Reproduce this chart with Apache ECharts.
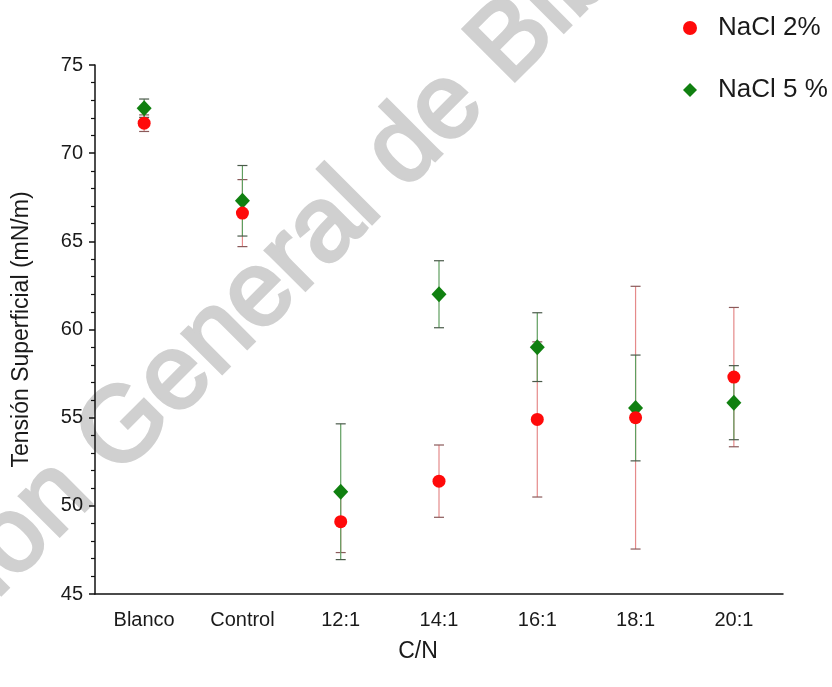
<!DOCTYPE html>
<html>
<head>
<meta charset="utf-8">
<script src="https://cdn.jsdelivr.net/npm/echarts@6/dist/echarts.min.js"></script>
<style>html,body{margin:0;padding:0;background:#fff}#c{width:832px;height:687px}</style>
</head>
<body>
<div id="c"></div>
<script>
const categories = ['Blanco', 'Control', '12:1', '14:1', '16:1', '18:1', '20:1'];
const nacl2 = [71.7, 66.6, 49.1, 51.4, 54.9, 55.0, 57.3];
const nacl2Err = [0.47, 1.9, 1.75, 2.05, 4.4, 7.45, 3.95];
const nacl5 = [72.55, 67.3, 50.8, 62.0, 59.0, 55.55, 55.85];
const nacl5Err = [0.52, 2.0, 3.85, 1.9, 1.95, 3.0, 2.1];
const yTicks = [45, 50, 55, 60, 65, 70, 75];

const FONT = '"Liberation Sans", Arial, sans-serif';
const chart = echarts.init(document.getElementById('c'), null, {renderer: 'canvas'});

function errData(vals, errs) {
  return vals.map((v, i) => [i, v - errs[i], v + errs[i]]);
}
function errRender(lineColor, capColor) {
  return function (params, api) {
    const i = api.value(0);
    const lo = api.coord([i, api.value(1)]);
    const hi = api.coord([i, api.value(2)]);
    const hw = 5;
    return {
      type: 'group',
      children: [
        {type: 'line', shape: {x1: lo[0], y1: lo[1], x2: hi[0], y2: hi[1]}, style: {stroke: lineColor, lineWidth: 1.2}},
        {type: 'line', shape: {x1: lo[0] - hw, y1: lo[1], x2: lo[0] + hw, y2: lo[1]}, style: {stroke: capColor, lineWidth: 1.2}},
        {type: 'line', shape: {x1: hi[0] - hw, y1: hi[1], x2: hi[0] + hw, y2: hi[1]}, style: {stroke: capColor, lineWidth: 1.2}}
      ]
    };
  };
}

const wmFont = '106px "Liberation Sans", Arial, sans-serif';
const wmX = 488, wmY = 66, wmRot = Math.PI / 4;
const wmStyle = {font: wmFont, fill: '#d0d0d0', stroke: '#d0d0d0', lineWidth: 3.5, verticalAlign: 'middle'};

chart.setOption({
  backgroundColor: '#ffffff',
  animation: false,
  graphic: [
    {type: 'text', x: wmX, y: wmY, rotation: wmRot, z: -10, silent: true,
     style: Object.assign({text: 'Dirección General de ', align: 'right'}, wmStyle)},
    {type: 'text', x: wmX, y: wmY, rotation: wmRot, z: -10, silent: true,
     style: Object.assign({text: 'Bibliotecas', align: 'left'}, wmStyle)}
  ],
  legend: {
    orient: 'vertical',
    left: 678, top: 10,
    itemWidth: 14, itemHeight: 14,
    itemGap: 36,
    textStyle: {fontFamily: FONT, fontSize: 26, color: '#1a1a1a', padding: [0, 0, 0, 16]},
    data: ['NaCl 2%', 'NaCl 5 %']
  },
  grid: {left: 95, right: 49, top: 65, bottom: 93, containLabel: false},
  xAxis: [
    {
      type: 'category', data: categories, boundaryGap: true,
      name: 'C/N', nameLocation: 'middle', nameGap: 46,
      nameTextStyle: {fontFamily: FONT, fontSize: 23, color: '#1a1a1a', padding: [0, 42, 0, 0]},
      axisLine: {lineStyle: {color: '#111', width: 1.5}},
      axisTick: {alignWithLabel: true, length: 7, lineStyle: {color: '#111', width: 1.5}},
      axisLabel: {margin: 16, fontFamily: FONT, fontSize: 20, color: '#1a1a1a'},
      splitLine: {show: false}
    },
    {
      type: 'category', data: categories, boundaryGap: true, position: 'bottom',
      axisLine: {show: false},
      axisTick: {length: 4, lineStyle: {color: '#111', width: 1.5}},
      axisLabel: {show: false},
      splitLine: {show: false}
    }
  ],
  yAxis: {
    type: 'value', min: 45, max: 75, interval: 5,
    name: 'Tensión Superficial (mN/m)', nameLocation: 'middle', nameGap: 62,
    nameTextStyle: {fontFamily: FONT, fontSize: 23, color: '#1a1a1a'},
    axisLine: {show: true, lineStyle: {color: '#111', width: 1.5}},
    axisTick: {show: true, length: 6, lineStyle: {color: '#111', width: 1.5}},
    minorTick: {show: true, splitNumber: 5, length: 4, lineStyle: {color: '#111', width: 1.2}},
    axisLabel: {margin: 12, fontFamily: FONT, fontSize: 20, color: '#1a1a1a',
      formatter: v => (yTicks.indexOf(v) >= 0 ? String(v) : '')},
    splitLine: {show: false}
  },
  series: [
    {type: 'custom', name: 'errNaCl2', data: errData(nacl2, nacl2Err), renderItem: errRender('#e58a8a', '#8a5a5a'), z: 2, silent: true},
    {type: 'custom', name: 'errNaCl5', data: errData(nacl5, nacl5Err), renderItem: errRender('#5f9e5f', '#4a5a4a'), z: 3, silent: true},
    {type: 'scatter', name: 'NaCl 5 %', data: nacl5, symbol: 'diamond', symbolSize: [15, 16],
     itemStyle: {color: '#108010', opacity: 1}, z: 4},
    {type: 'scatter', name: 'NaCl 2%', data: nacl2, symbol: 'circle', symbolSize: 13,
     itemStyle: {color: '#ff0a0a', opacity: 1}, z: 5}
  ]
});
</script>
</body>
</html>
